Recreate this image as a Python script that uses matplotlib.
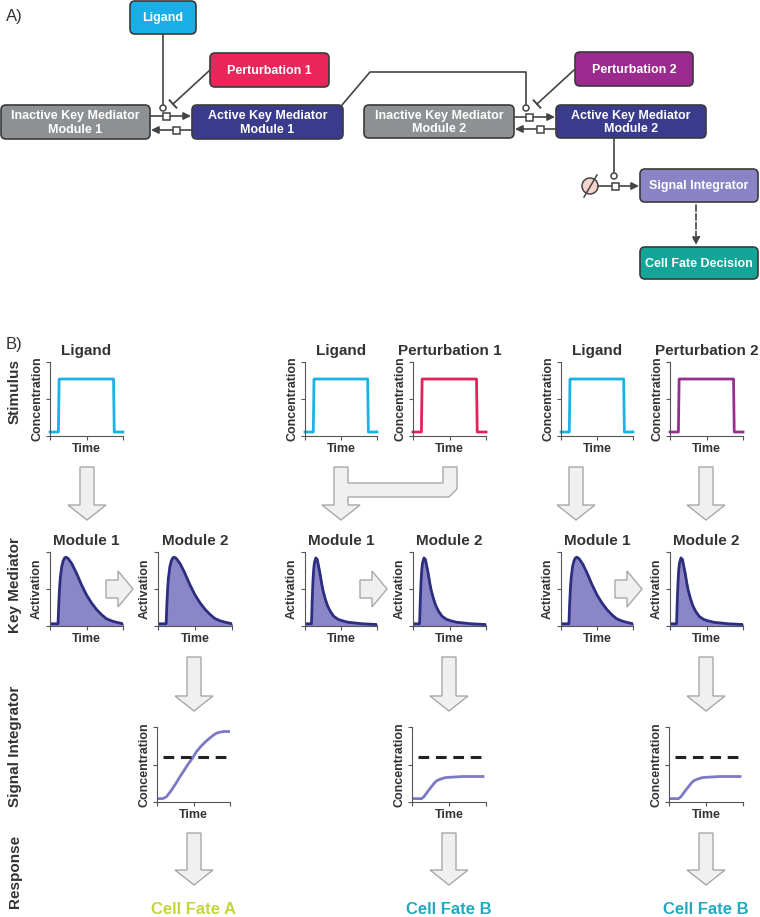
import matplotlib
matplotlib.use('Agg')
import matplotlib.pyplot as plt
from matplotlib.patches import FancyBboxPatch, Polygon, Circle, Rectangle
import numpy as np

plt.rcParams['font.family'] = ['Liberation Sans', 'DejaVu Sans']

W, H = 760, 917
DARK = '#333333'
LINE = '#444444'

# ---- data (axes run 0..1 on both sides) ----
step_t = [0, 0.115, 0.125, 0.87, 0.88, 1.0]
step_c = [0.054, 0.054, 0.77, 0.77, 0.054, 0.054]

slow_t = [0, 0.11, 0.12, 0.13, 0.14, 0.16, 0.18, 0.20, 0.22, 0.25, 0.30, 0.36,
          0.43, 0.50, 0.57, 0.64, 0.71, 0.77, 0.84, 0.91, 1.0]
slow_a = [0.03, 0.03, 0.30, 0.50, 0.64, 0.80, 0.88, 0.92, 0.93, 0.91, 0.84, 0.72,
          0.56, 0.42, 0.31, 0.22, 0.15, 0.10, 0.07, 0.05, 0.03]

fast_t = [0, 0.09, 0.10, 0.11, 0.12, 0.13, 0.15, 0.17, 0.19, 0.21, 0.23, 0.25,
          0.28, 0.31, 0.35, 0.40, 0.46, 0.52, 0.60, 0.70, 0.80, 1.0]
fast_a = [0.03, 0.03, 0.35, 0.60, 0.76, 0.85, 0.92, 0.90, 0.80, 0.70, 0.58, 0.48,
          0.37, 0.28, 0.20, 0.13, 0.09, 0.07, 0.05, 0.04, 0.03, 0.02]

high_t = [0, 0.08, 0.13, 0.20, 0.26, 0.31, 0.37, 0.43, 0.49, 0.54, 0.60, 0.66,
          0.72, 0.77, 0.82, 0.86, 0.92, 0.98]
high_c = [0.045, 0.045, 0.07, 0.16, 0.25, 0.33, 0.42, 0.51, 0.59, 0.67, 0.74, 0.80,
          0.85, 0.89, 0.92, 0.93, 0.94, 0.94]

low_t = [0, 0.13, 0.16, 0.19, 0.22, 0.26, 0.30, 0.33, 0.37, 0.40, 0.45, 0.51,
         0.60, 0.69, 0.80, 0.96]
low_c = [0.045, 0.045, 0.07, 0.11, 0.15, 0.20, 0.25, 0.28, 0.30, 0.31, 0.325, 0.33,
         0.335, 0.34, 0.34, 0.34]

threshold = 0.6
threshold_span = [0.08, 0.97]

stim_names = [['Ligand'], ['Ligand', 'Perturbation 1'], ['Ligand', 'Perturbation 2']]
stim_colors = [['#1ab2e8'], ['#1ab2e8', '#e0245a'], ['#1ab2e8', '#96308e']]
module_shapes = [['slow', 'slow'], ['fast', 'fast'], ['slow', 'fast']]
integrator_shapes = ['high', 'low', 'low']
fates = ['Cell Fate A', 'Cell Fate B', 'Cell Fate B']
fate_colors = ['#c5d53a', '#1eaac0', '#1eaac0']

fig = plt.figure(figsize=(W / 100, H / 100), dpi=100)
bg = fig.add_axes([0, 0, 1, 1])
bg.set_xlim(0, W)
bg.set_ylim(H, 0)
bg.axis('off')


def box(x0, y0, x1, y1, color, text):
    r = 5
    bg.add_patch(FancyBboxPatch((x0 + r, y0 + r), x1 - x0 - 2 * r, y1 - y0 - 2 * r,
                                boxstyle=f'round,pad={r}', fc=color, ec='#3a3a3a', lw=1.2))
    bg.text((x0 + x1) / 2, (y0 + y1) / 2 + 1, text, color='white', fontsize=9,
            fontweight='bold', ha='center', va='center', linespacing=1.2)


def arrow(x0, y0, x1, y1, ls='-'):
    bg.annotate('', xy=(x1, y1), xytext=(x0, y0),
                arrowprops=dict(arrowstyle='-|>', color=LINE, lw=1.2, ls=ls,
                                mutation_scale=11, shrinkA=0, shrinkB=0))


def square(x, y):
    bg.add_patch(Rectangle((x - 3.5, y - 3.5), 7, 7, fc='white', ec=LINE, lw=1.1, zorder=5))


def ring(x, y):
    bg.add_patch(Circle((x, y), 3, fc='white', ec=LINE, lw=1.1, zorder=5))


def tbar(x0, y0, x1, y1):
    bg.plot([x0, x1], [y0, y1], color=LINE, lw=1.2)
    d = np.array([x1 - x0, y1 - y0], float)
    d /= np.hypot(*d)
    p = np.array([-d[1], d[0]]) * 5
    bg.plot([x1 - p[0], x1 + p[0]], [y1 - p[1], y1 + p[1]], color=LINE, lw=1.4)


# ---------------- panel A ----------------
bg.text(6, 16, 'A)', fontsize=12, color=DARK, va='center')

box(130, 1, 196, 34, '#19aee6', 'Ligand')
box(210, 53, 329, 87, '#e8265a', 'Perturbation 1')
box(1, 105, 150, 139, '#8e9193', 'Inactive Key Mediator\nModule 1')
box(192, 105, 343, 139, '#3b3b8e', 'Active Key Mediator\nModule 1')
box(575, 52, 693, 86, '#9a2a8e', 'Perturbation 2')
box(364, 105, 514, 138, '#8e9193', 'Inactive Key Mediator\nModule 2')
box(556, 105, 706, 138, '#3b3b8e', 'Active Key Mediator\nModule 2')
box(640, 169, 758, 202, '#8a84c6', 'Signal Integrator')
box(640, 247, 758, 279, '#14a598', 'Cell Fate Decision')

# module 1 reactions
bg.plot([163, 163], [34, 105], color=LINE, lw=1.2)
ring(163, 108)
tbar(210, 70, 173, 104)
arrow(150, 116, 191, 116)
square(166, 116)
arrow(192, 130, 151, 130)
square(176, 130)

# link active module 1 -> module 2 activation
bg.plot([342, 370, 526, 526], [105, 72, 72, 104.5], color=LINE, lw=1.2)
ring(526, 108)
tbar(574, 70, 537, 104)
arrow(514, 117, 555, 117)
square(529, 117)
arrow(556, 129, 515, 129)
square(540, 129)

# signal integrator production
bg.plot([614, 614], [138, 172.5], color=LINE, lw=1.2)
ring(614, 176)
bg.add_patch(Circle((590, 186), 8, fc='#f6d6cc', ec=LINE, lw=1.1))
bg.plot([584, 597], [197, 175], color=LINE, lw=1.1)
arrow(598, 186, 639, 186)
square(615, 186)
arrow(696, 205, 696, 245, ls='--')

# ---------------- panel B ----------------
bg.text(6, 345, 'B)', fontsize=12, color=DARK, va='center')
for label, yc in [('Stimulus', 391), ('Key Mediator', 585),
                  ('Signal Integrator', 746), ('Response', 871)]:
    bg.text(15, yc, label, rotation=90, fontsize=11, fontweight='bold',
            color=DARK, ha='center', va='center')

ARW_FC, ARW_EC = '#f0f0f0', '#a8a8a8'


def block(pts):
    bg.add_patch(Polygon(pts, closed=True, fc=ARW_FC, ec=ARW_EC, lw=1.0))


def down(cx, top, head, tip, sw=7, hw=19):
    block([(cx - sw, top), (cx + sw, top), (cx + sw, head), (cx + hw, head),
           (cx, tip), (cx - hw, head), (cx - sw, head)])


def right(left, head, tip, cy, sh=9, hh=18):
    block([(left, cy - sh), (head, cy - sh), (head, cy - hh), (tip, cy),
           (head, cy + hh), (head, cy + sh), (left, cy + sh)])


# stimulus -> module arrows
down(87, 467, 505, 520)
block([(334, 467), (348, 467), (348, 483), (443, 483), (443, 467), (457, 467),
       (457, 489), (449, 497), (348, 497), (348, 505), (360, 505), (341, 520),
       (322, 505), (334, 505)])
down(576, 467, 505, 520)
down(706, 467, 505, 520)
# module 1 -> module 2
for x in [106, 360, 615]:
    right(x, x + 12, x + 27, 589)
# module 2 -> integrator -> response
for cx in [194, 449, 706]:
    down(cx, 657, 696, 711)
    down(cx, 833, 870, 885)

curves = {'slow': (slow_t, slow_a), 'fast': (fast_t, fast_a),
          'high': (high_t, high_c), 'low': (low_t, low_c)}


def mini(l, t, r, b, ylabel, title=None):
    ax = fig.add_axes([l / W, 1 - b / H, (r - l) / W, (b - t) / H])
    ax.patch.set_visible(False)
    ax.set_xlim(0, 1)
    ax.set_ylim(0, 1)
    ax.spines[['top', 'right']].set_visible(False)
    ax.spines[['left', 'bottom']].set_color('#555555')
    ax.spines[['left', 'bottom']].set_linewidth(0.8)
    ax.set_xticks([0, 0.5, 1])
    ax.set_yticks([0, 0.5, 1])
    ax.tick_params(length=3, width=0.8, color='#555555',
                   labelbottom=False, labelleft=False)
    ax.set_xlabel('Time', fontsize=9, fontweight='bold', color=DARK, labelpad=2)
    ax.set_ylabel(ylabel, fontsize=9, fontweight='bold', color=DARK, labelpad=2)
    if title:
        ax.set_title(title, fontsize=11, fontweight='bold', color=DARK, pad=5)
    return ax


stim_x = [[(50, 123)], [(305, 377), (413, 486)], [(561, 633), (670, 743)]]
mod_x = [[(50, 123), (158, 232)], [(305, 377), (413, 486)], [(561, 633), (670, 743)]]
int_x = [(157, 230), (412, 486), (669, 743)]

for g in range(3):
    for (l, r), name, col in zip(stim_x[g], stim_names[g], stim_colors[g]):
        ax = mini(l, 362, r, 436, 'Concentration', name)
        ax.plot(step_t, step_c, color=col, lw=2, clip_on=False)
    for k, ((l, r), shape) in enumerate(zip(mod_x[g], module_shapes[g])):
        ax = mini(l, 552, r, 626, 'Activation', f'Module {k + 1}')
        t, a = curves[shape]
        ax.fill_between(t, 0, a, color='#8a86c8')
        ax.plot(t, a, color='#2e2e80', lw=2, solid_capstyle='round')
    l, r = int_x[g]
    ax = mini(l, 727, r, 802, 'Concentration')
    t, c = curves[integrator_shapes[g]]
    ax.plot(t, c, color='#7d79c2', lw=2)
    ax.plot(threshold_span, [threshold, threshold], color='#222222', lw=2.2,
            ls=(0, (3.5, 2.2)))
    bg.text((l + r) / 2, 910, fates[g], fontsize=12, fontweight='bold',
            color=fate_colors[g], ha='center', va='center')

fig.savefig('out.png', dpi=100)
